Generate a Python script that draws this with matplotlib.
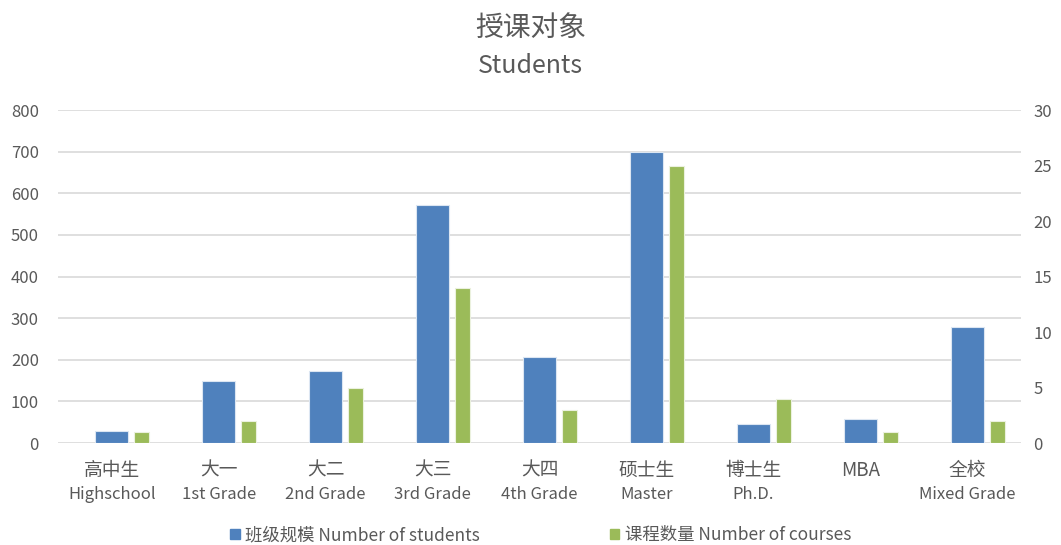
import matplotlib
matplotlib.use("Agg")
import matplotlib.pyplot as plt
import numpy as np
from matplotlib.patches import Patch

plt.rcParams['font.family'] = ['Noto Sans CJK SC', 'DejaVu Sans']

# data
cats_cn = ["高中生", "大一", "大二", "大三", "大四", "硕士生", "博士生", "MBA", "全校"]
cats_en = ["Highschool", "1st Grade", "2nd Grade", "3rd Grade", "4th Grade",
           "Master", "Ph.D.", "", "Mixed Grade"]
students = [28, 150, 172, 573, 206, 700, 46, 58, 280]
courses = [1, 2, 5, 14, 3, 25, 4, 1, 2]

blue = "#4F81BD"
green = "#9BBB59"
grey = "#595959"

fig = plt.figure(figsize=(10.61, 5.45), dpi=100)
ax = fig.add_axes([0.055, 0.187, 0.907, 0.611])
ax2 = ax.twinx()

x = np.arange(len(cats_cn))
ax.bar(x, students, width=0.31, color=blue, edgecolor="#DCE6F2", linewidth=0.8, zorder=3)
ax2.bar(x + 0.28, courses, width=0.14, color=green, edgecolor="#EBF1DE", linewidth=0.8, zorder=3)

ax.set_xlim(-0.5, len(cats_cn) - 0.5)
ax.set_ylim(0, 800)
ax.set_yticks(range(0, 801, 100))
ax2.set_ylim(0, 30)
ax2.set_yticks(range(0, 31, 5))

ax.grid(axis="y", color="#D9D9D9", linewidth=1.2, zorder=0)
ax.set_axisbelow(True)
for a in (ax, ax2):
    for s in a.spines.values():
        s.set_visible(False)
    a.tick_params(length=0, labelsize=12, labelcolor=grey)
ax.tick_params(axis="y", pad=14)
ax2.tick_params(axis="y", pad=9)
ax.set_xticks(x)
ax.set_xticklabels([])

# two-line category labels
for i, (cn, en) in enumerate(zip(cats_cn, cats_en)):
    ax.annotate(cn, xy=(i, 0), xycoords=("data", "axes fraction"),
                xytext=(0, -12), textcoords="offset points",
                ha="center", va="top", fontsize=13.5, color=grey)
    ax.annotate(en, xy=(i, 0), xycoords=("data", "axes fraction"),
                xytext=(0, -31), textcoords="offset points",
                ha="center", va="top", fontsize=12, color=grey)

fig.text(0.5, 1 - 28 / 545, "授课对象", ha="center", va="center", fontsize=20,
         color=grey, fontweight="light")
fig.text(0.5, 1 - 66 / 545, "Students", ha="center", va="center", fontsize=18, color=grey)

handles = [Patch(color=blue, label="班级规模 Number of students"),
           Patch(color=green, label="课程数量 Number of courses")]
fig.legend(handles=handles, loc="center", bbox_to_anchor=(0.5 + 10 / 1061, 1 - 535 / 545), ncol=2,
           frameon=False, fontsize=12.5, handlelength=0.55, handleheight=0.55,
           handletextpad=0.3, columnspacing=7.5, labelcolor=grey)

fig.savefig("out.png", dpi=100)
